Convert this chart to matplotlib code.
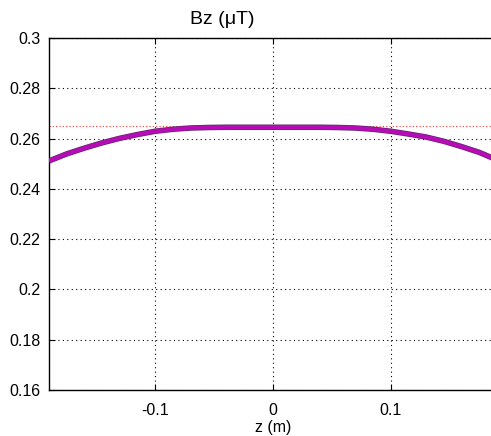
import matplotlib
matplotlib.use("Agg")
import matplotlib.pyplot as plt

z = [-0.19, -0.175, -0.16, -0.145, -0.13, -0.115, -0.10, -0.085, -0.07, -0.055,
     -0.04, -0.02, 0.0, 0.02, 0.04, 0.055, 0.07, 0.085, 0.10, 0.115, 0.13,
     0.145, 0.16, 0.175, 0.19]
bz = [0.2511, 0.2539, 0.2562, 0.2583, 0.2601, 0.2616, 0.2629, 0.2637, 0.2642,
      0.2644, 0.2645, 0.2645, 0.2645, 0.2645, 0.2645, 0.2644, 0.2642, 0.2637,
      0.2629, 0.2618, 0.2606, 0.2589, 0.2568, 0.2545, 0.2515]
ref_level = 0.265
xticks = [-0.1, 0, 0.1]
xticklabels = ["-0.1", "0", "0.1"]
yticks = [0.16, 0.18, 0.2, 0.22, 0.24, 0.26, 0.28, 0.3]
yticklabels = ["0.16", "0.18", "0.2", "0.22", "0.24", "0.26", "0.28", "0.3"]

plt.rcParams['font.family'] = ['Liberation Sans', 'DejaVu Sans']

fig = plt.figure(figsize=(4.91, 4.36), dpi=100)
ax = fig.add_axes([49/491, 46/436, 448/491, 352/436])

ax.axhline(ref_level, color='#ff3030', lw=0.8, ls=(0, (1, 2)), zorder=2)
ax.plot(z, bz, color='#5e2a6e', lw=4.0, solid_capstyle='butt', zorder=3)
ax.plot(z, bz, color='#b50cb5', lw=3.0, solid_capstyle='butt', zorder=4)

ax.set_xlim(-0.19, 0.19)
ax.set_ylim(0.16, 0.3)
ax.set_xticks(xticks)
ax.set_xticklabels(xticklabels)
ax.set_yticks(yticks)
ax.set_yticklabels(yticklabels)
ax.tick_params(axis='x', direction='in', length=4, labelsize=11.5, top=True, pad=9)
ax.tick_params(axis='y', direction='in', length=4, labelsize=11.5, pad=6)
ax.grid(True, color='black', ls=(0, (1, 3)), lw=0.8)
ax.set_axisbelow(True)
for s in ax.spines.values():
    s.set_linewidth(1.0)

ax.set_xlabel("z (m)", fontsize=11.5, labelpad=2)
fig.text(222/491, 1 - 19/436, "Bz (μT)", fontsize=14, ha='center', va='center')

fig.savefig("out.png", dpi=100)
